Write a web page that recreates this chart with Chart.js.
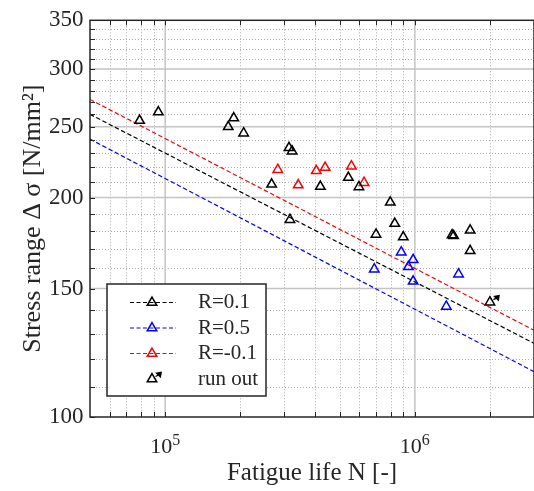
<!DOCTYPE html>
<html>
<head>
<meta charset="utf-8">
<script src="https://cdn.jsdelivr.net/npm/chart.js@4.4.0/dist/chart.umd.min.js"></script>
<style>
  html, body { margin: 0; padding: 0; background: #fff; }
  canvas { display: block; }
</style>
</head>
<body>
<canvas id="sn" width="534" height="491"></canvas>
<script>
// test results (life N, stress range in N/mm2)
const r01Life = [79000, 93900, 178900, 188200, 206200, 266900, 313300, 316000, 322300, 418300, 541600, 597000, 698800, 797000, 830700, 898600, 1410000, 1430000, 1665000, 1665000];
const r01Stress = [255, 262, 250, 257, 245, 208.5, 234, 186.5, 231.5, 207, 213, 206.8, 178, 197, 184.2, 176.5, 177.6, 177.2, 180.3, 169];

const r05Life = [687800, 881900, 941900, 984400, 984400, 1336000, 1496000];
const r05Stress = [159.5, 168.3, 160.7, 164.3, 153.5, 141.8, 157];

const rm01Life = [282400, 341100, 402800, 437200, 557000, 625800];
const rm01Stress = [218.4, 208, 217.6, 219.8, 220.8, 209.6];

const runOutLife = [1998000];
const runOutStress = [143.7];

// fitted curves, end points at the axis limits
const fitLife = [5e4, 3e6];
const fitR01 = [260.1, 126.2];
const fitR05 = [240.5, 115.4];
const fitRm01 = [272.6, 131.5];

// axis ticks
const xMajor = [1e5, 1e6];
const xMinor = [6e4, 7e4, 8e4, 9e4, 2e5, 3e5, 4e5, 5e5, 6e5, 7e5, 8e5, 9e5, 2e6];
const xLabelExp = ['5', '6'];
const yMajor = [100, 150, 200, 250, 300, 350];
const yMinor = [110, 120, 130, 140, 160, 170, 180, 190, 210, 220, 230, 240, 260, 270, 280, 290, 310, 320, 330, 340];

const legendItems = [
  { label: 'R=0.1', color: '#000000' },
  { label: 'R=0.5', color: '#0000ff' },
  { label: 'R=-0.1', color: '#ff0000' },
  { label: 'run out', color: '#000000', runOut: true }
];

const serif = '"Liberation Serif", "Times New Roman", serif';
const ink = '#262626';

function pts(xs, ys) {
  return xs.map((v, i) => ({ x: v, y: ys[i] }));
}

function triangle(ctx, x, y, r, color) {
  ctx.save();
  ctx.strokeStyle = color;
  ctx.lineWidth = 1.5;
  ctx.setLineDash([]);
  ctx.beginPath();
  ctx.moveTo(x, y - r);
  ctx.lineTo(x + r * 0.866, y + r / 2);
  ctx.lineTo(x - r * 0.866, y + r / 2);
  ctx.closePath();
  ctx.stroke();
  ctx.restore();
}

// short arrow up-right marking a run-out specimen
function runOutArrow(ctx, x, y) {
  const tx = x + 10, ty = y - 7.5;
  ctx.save();
  ctx.strokeStyle = '#000';
  ctx.fillStyle = '#000';
  ctx.lineWidth = 1.3;
  ctx.setLineDash([]);
  ctx.beginPath();
  ctx.moveTo(x + 3.5, y - 2.5);
  ctx.lineTo(tx - 3.5, ty + 3.5);
  ctx.stroke();
  ctx.beginPath();
  ctx.moveTo(tx, ty);
  ctx.lineTo(tx - 6.8, ty + 1.2);
  ctx.lineTo(tx - 1.2, ty + 6.8);
  ctx.closePath();
  ctx.fill();
  ctx.restore();
}

const framePlugin = {
  id: 'frame',
  beforeDatasetsDraw(chart) {
    const { ctx, chartArea: a, scales: { x, y } } = chart;
    ctx.save();
    // dotted minor grid
    ctx.lineWidth = 1;
    ctx.strokeStyle = '#aaaaaa';
    ctx.setLineDash([1, 2]);
    ctx.beginPath();
    xMinor.forEach(v => {
      const px = Math.round(x.getPixelForValue(v)) + 0.5;
      ctx.moveTo(px, a.top); ctx.lineTo(px, a.bottom);
    });
    yMinor.forEach(v => {
      const py = Math.round(y.getPixelForValue(v)) + 0.5;
      ctx.moveTo(a.left, py); ctx.lineTo(a.right, py);
    });
    ctx.stroke();
    // solid major grid
    ctx.setLineDash([]);
    ctx.strokeStyle = '#c4c4c4';
    ctx.lineWidth = 1.5;
    ctx.beginPath();
    xMajor.forEach(v => {
      const px = x.getPixelForValue(v);
      ctx.moveTo(px, a.top); ctx.lineTo(px, a.bottom);
    });
    yMajor.filter(v => v > y.min && v < y.max).forEach(v => {
      const py = y.getPixelForValue(v);
      ctx.moveTo(a.left, py); ctx.lineTo(a.right, py);
    });
    ctx.stroke();
    ctx.restore();
  },
  afterDatasetsDraw(chart) {
    const { ctx, chartArea: a, scales: { x, y } } = chart;

    // run-out arrows
    chart.getDatasetMeta(3).data.forEach(p => runOutArrow(ctx, p.x, p.y));

    ctx.save();
    // inward tick marks
    ctx.strokeStyle = ink;
    ctx.lineWidth = 1;
    ctx.beginPath();
    xMajor.concat(xMinor).forEach(v => {
      const px = Math.round(x.getPixelForValue(v)) + 0.5;
      ctx.moveTo(px, a.bottom); ctx.lineTo(px, a.bottom - 5);
      ctx.moveTo(px, a.top); ctx.lineTo(px, a.top + 5);
    });
    yMajor.concat(yMinor).forEach(v => {
      const py = Math.round(y.getPixelForValue(v)) + 0.5;
      ctx.moveTo(a.left, py); ctx.lineTo(a.left + 5, py);
    });
    ctx.stroke();
    // axes box
    ctx.lineWidth = 1.5;
    ctx.strokeRect(a.left, a.top, a.right - a.left, a.bottom - a.top);

    // x tick labels 10^n
    ctx.fillStyle = ink;
    ctx.textBaseline = 'alphabetic';
    ctx.textAlign = 'left';
    xMajor.forEach((v, i) => {
      const px = x.getPixelForValue(v);
      ctx.font = '22px ' + serif;
      const w1 = ctx.measureText('10').width;
      ctx.font = '16px ' + serif;
      const w2 = ctx.measureText(xLabelExp[i]).width;
      const start = px - (w1 + w2) / 2;
      ctx.font = '22px ' + serif;
      ctx.fillText('10', start, 453);
      ctx.font = '16px ' + serif;
      ctx.fillText(xLabelExp[i], start + w1, 445);
    });

    // legend
    const lx = 107, ly = 284, lw = 159, lh = 112;
    ctx.fillStyle = '#fff';
    ctx.fillRect(lx, ly, lw, lh);
    ctx.strokeStyle = ink;
    ctx.lineWidth = 1.5;
    ctx.strokeRect(lx, ly, lw, lh);
    const rows = [302.5, 328, 353.5, 379];
    legendItems.forEach((item, i) => {
      const ry = rows[i];
      if (item.runOut) {
        triangle(ctx, 152, ry, 5.5, item.color);
        runOutArrow(ctx, 152, ry);
      } else {
        ctx.save();
        ctx.strokeStyle = item.color;
        ctx.lineWidth = 1.2;
        ctx.setLineDash([4, 2.5]);
        ctx.beginPath();
        ctx.moveTo(130, ry); ctx.lineTo(176, ry);
        ctx.stroke();
        ctx.restore();
        triangle(ctx, 152, ry, 5.5, item.color);
      }
      ctx.fillStyle = ink;
      ctx.font = '21px ' + serif;
      ctx.textBaseline = 'middle';
      ctx.fillText(item.label, 198, ry);
    });
    ctx.restore();
  }
};

function markers(xs, ys, color) {
  return {
    data: pts(xs, ys),
    showLine: false,
    pointStyle: 'triangle',
    pointRadius: 5.5,
    pointBorderWidth: 1.5,
    borderColor: color,
    backgroundColor: 'rgba(0,0,0,0)',
    order: 1
  };
}

function fitLine(ys, color) {
  return {
    data: pts(fitLife, ys),
    showLine: true,
    borderColor: color,
    borderWidth: 1.2,
    borderDash: [4.5, 2.5],
    pointRadius: 0,
    order: 5
  };
}

new Chart(document.getElementById('sn'), {
  type: 'scatter',
  data: {
    datasets: [
      markers(r01Life, r01Stress, '#000000'),
      markers(r05Life, r05Stress, '#0000ff'),
      markers(rm01Life, rm01Stress, '#ff0000'),
      markers(runOutLife, runOutStress, '#000000'),
      fitLine(fitR01, '#000000'),
      fitLine(fitR05, '#0000ff'),
      fitLine(fitRm01, '#ff0000')
    ]
  },
  options: {
    responsive: false,
    animation: false,
    layout: { autoPadding: false, padding: { top: 15, right: 0, bottom: 0, left: 0 } },
    plugins: { legend: { display: false }, tooltip: { enabled: false } },
    scales: {
      x: {
        type: 'logarithmic',
        min: 5e4,
        max: 3e6,
        grid: { display: false, drawTicks: false },
        border: { display: false },
        ticks: { display: false },
        afterBuildTicks: s => { s.ticks = xMajor.map(v => ({ value: v })); },
        afterFit: s => { s.height = 74; },
        title: {
          display: true,
          text: 'Fatigue life N [-]',
          color: ink,
          font: { family: serif, size: 25 },
          padding: { top: 0, bottom: 3 }
        }
      },
      y: {
        type: 'logarithmic',
        min: 100,
        max: 350,
        grid: { display: false, drawTicks: false },
        border: { display: false },
        ticks: {
          color: ink,
          font: { family: serif, size: 23 },
          padding: 6.5,
          callback: v => String(v)
        },
        afterBuildTicks: s => { s.ticks = yMajor.map(v => ({ value: v })); },
        afterFit: s => { s.width = 90; },
        title: {
          display: true,
          text: 'Stress range Δ σ [N/mm²]',
          color: ink,
          font: { family: serif, size: 26 },
          padding: { top: 18, bottom: 0 }
        }
      }
    }
  },
  plugins: [framePlugin]
});
</script>
</body>
</html>
